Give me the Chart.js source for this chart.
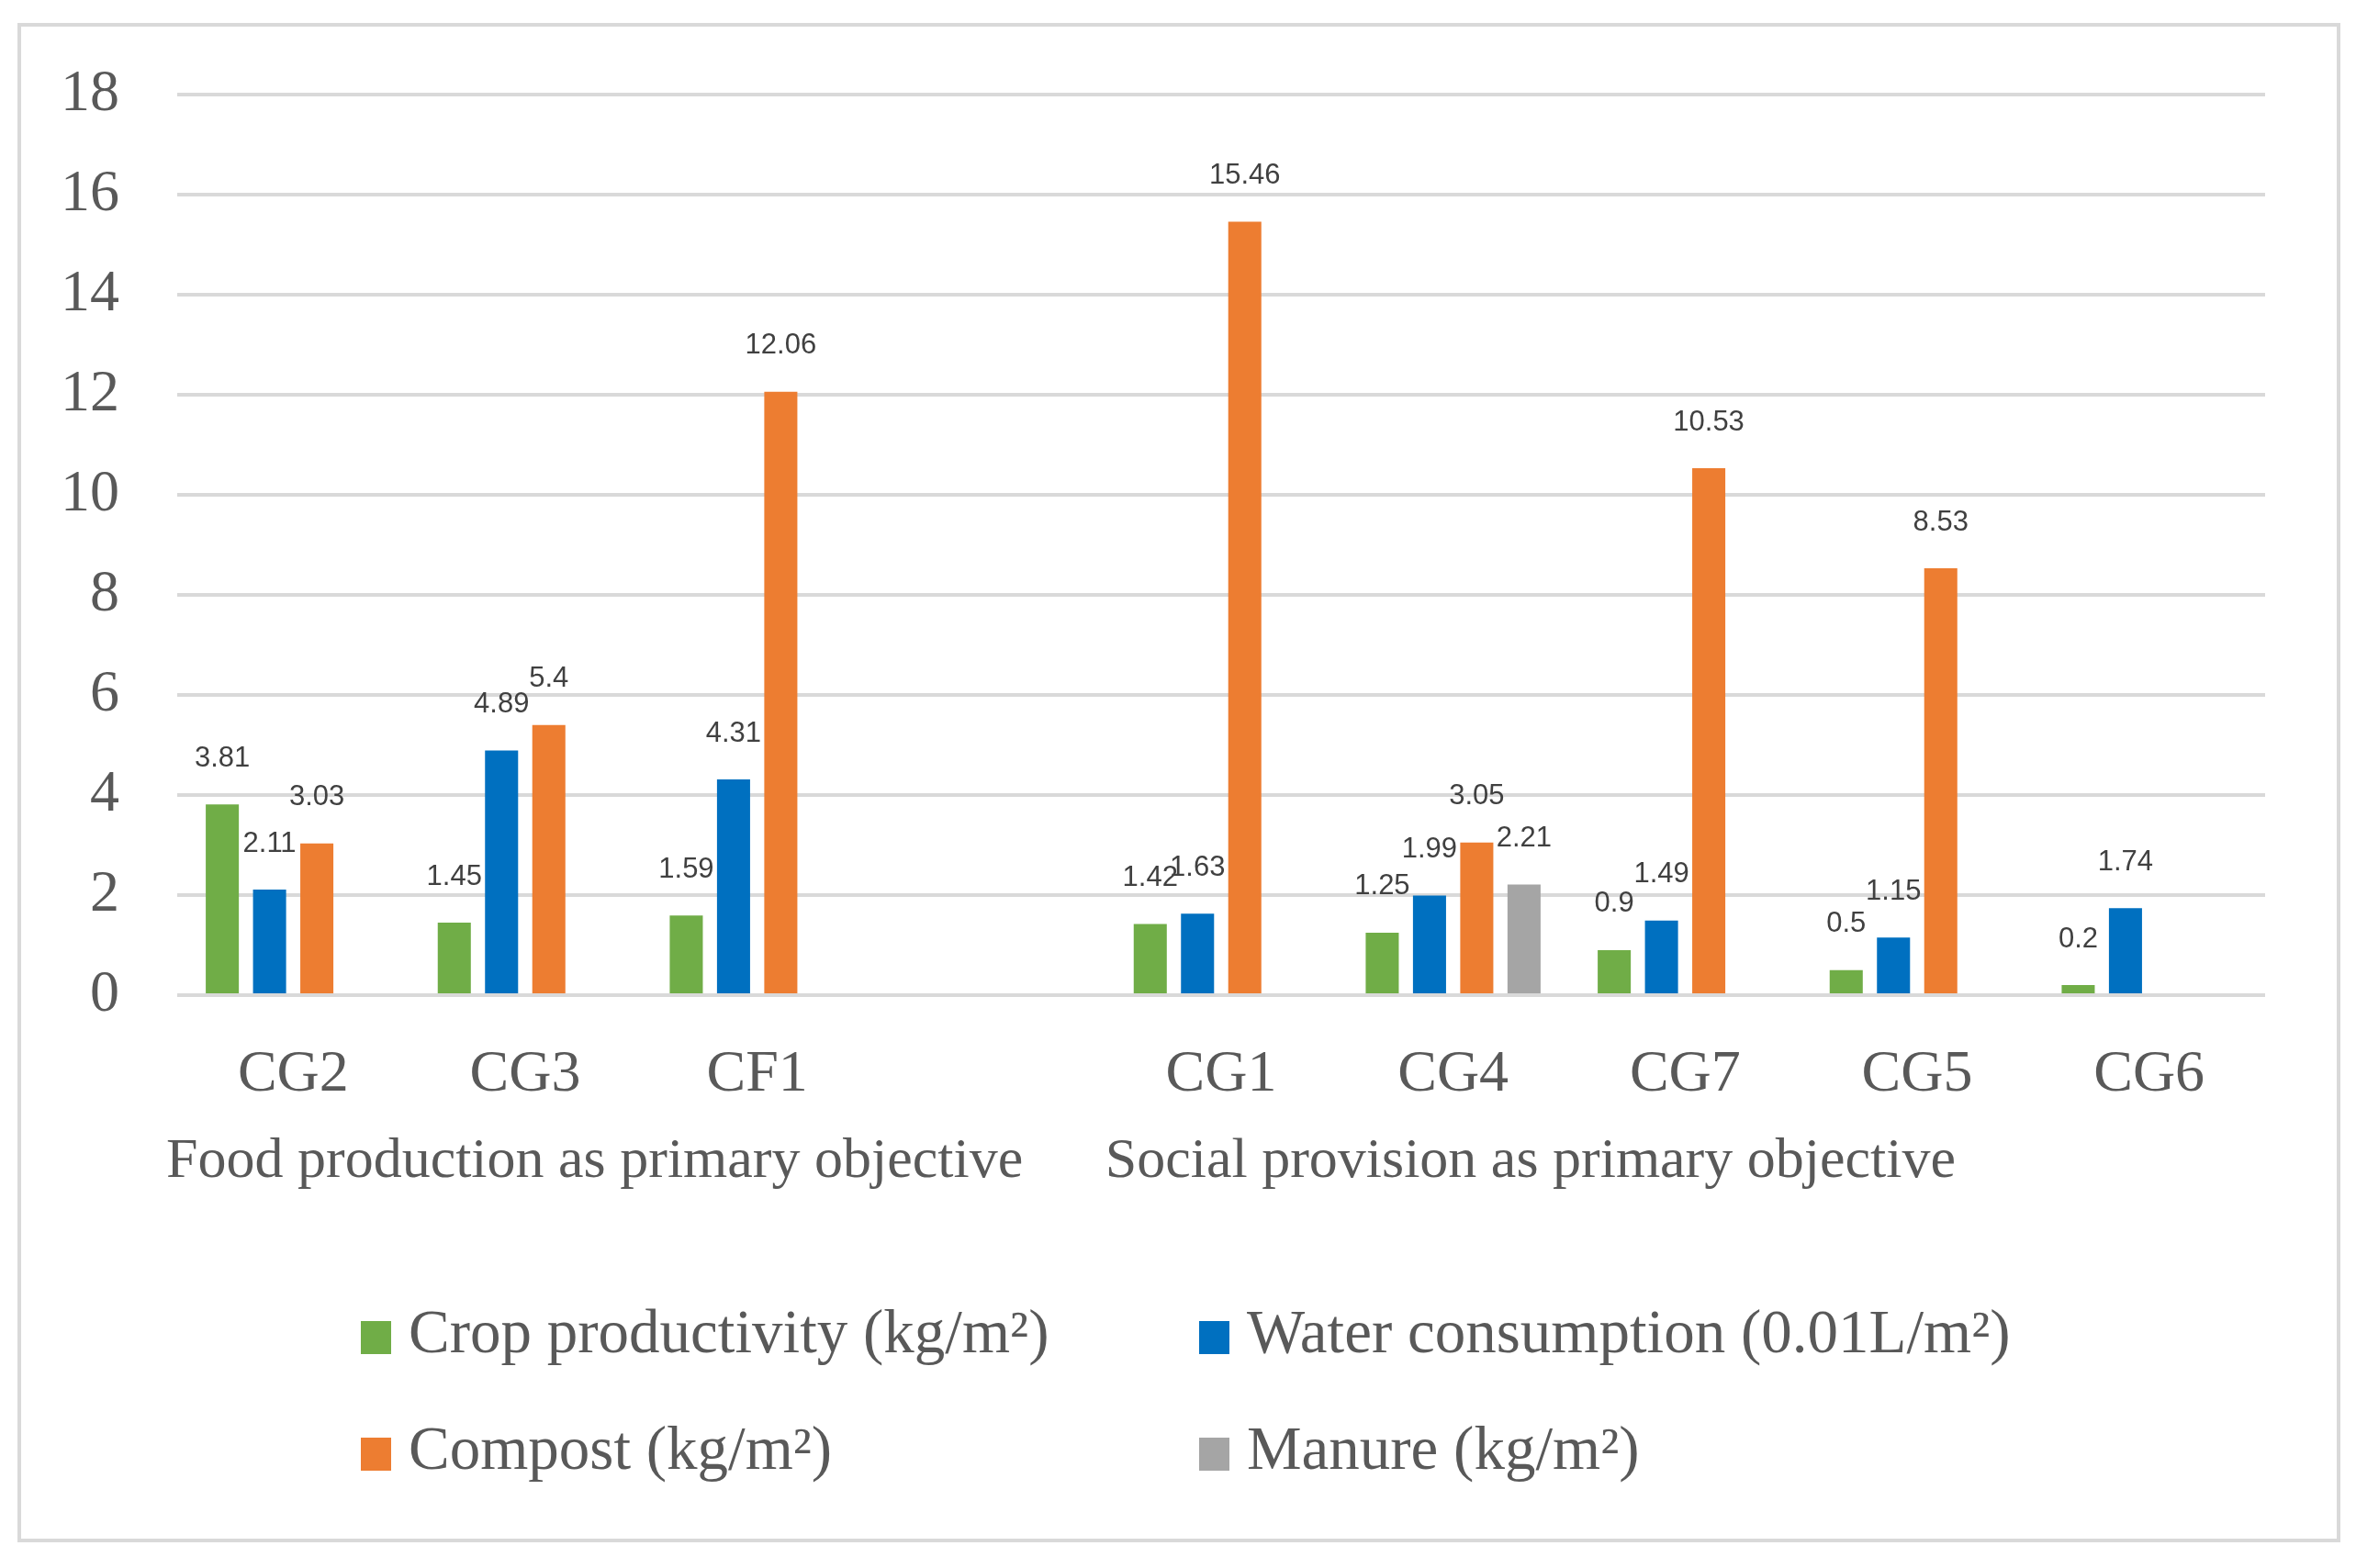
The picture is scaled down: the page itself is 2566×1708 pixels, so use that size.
<!DOCTYPE html>
<html>
<head>
<meta charset="utf-8">
<script src="https://cdn.jsdelivr.net/npm/chart.js@4.4.0/dist/chart.umd.min.js"></script>
<style>
  html, body { margin: 0; padding: 0; background: #fff; }
</style>
</head>
<body>
<canvas id="myChart" width="2566" height="1708"></canvas>
<script>
// categories (blank slot separates the two groups, as in the original)
const categories = ["CG2", "CG3", "CF1", "", "CG1", "CG4", "CG7", "CG5", "CG6"];
const groupLabels = ["Food production as primary objective", "Social provision as primary objective"];
const groupStarts = [0, 4];

const seriesNames = [
  "Crop productivity (kg/m\u00b2)",
  "Water consumption (0.01L/m\u00b2)",
  "Compost (kg/m\u00b2)",
  "Manure (kg/m\u00b2)",
];
const seriesColors = ["#70ad47", "#0070c0", "#ed7d31", "#a5a5a5"];

const cropProductivity = [3.81, 1.45, 1.59, null, 1.42, 1.25, 0.9, 0.5, 0.2];
const waterConsumption = [2.11, 4.89, 4.31, null, 1.63, 1.99, 1.49, 1.15, 1.74];
const compost = [3.03, 5.4, 12.06, null, 15.46, 3.05, 10.53, 8.53, null];
const manure = [null, null, null, null, null, 2.21, null, null, null];

const yMin = 0;
const yMax = 18;
const yStep = 2;

const serif = "'Liberation Serif', 'DejaVu Serif', serif";
const textGrey = "#595959";

const extras = {
  id: "extras",
  beforeDraw(chart) {
    const ctx = chart.ctx;
    ctx.save();
    ctx.fillStyle = "#ffffff";
    ctx.fillRect(0, 0, chart.width, chart.height);
    // outer frame
    ctx.strokeStyle = "#d9d9d9";
    ctx.lineWidth = 4;
    ctx.strokeRect(21, 27, 2526, 1651);
    ctx.restore();
  },
  afterDatasetsDraw(chart) {
    // value labels above each bar
    const ctx = chart.ctx;
    ctx.save();
    ctx.font = "31px 'Liberation Sans', Arial, sans-serif";
    ctx.fillStyle = "#404040";
    ctx.textAlign = "center";
    ctx.textBaseline = "middle";
    chart.data.datasets.forEach(function (ds, i) {
      const meta = chart.getDatasetMeta(i);
      meta.data.forEach(function (bar, j) {
        const v = ds.data[j];
        if (v === null || v === undefined) return;
        ctx.fillText(String(v), bar.x, bar.y - 50);
      });
    });
    ctx.restore();
  },
  afterDraw(chart) {
    const ctx = chart.ctx;
    const xScale = chart.scales.x;
    const catWidth = (xScale.right - xScale.left) / categories.length;
    ctx.save();
    ctx.fillStyle = textGrey;
    ctx.textBaseline = "middle";
    ctx.textAlign = "left";
    // group labels under the category labels
    ctx.font = "62px " + serif;
    groupLabels.forEach(function (lbl, i) {
      const x = xScale.getPixelForValue(groupStarts[i]) - catWidth / 2;
      ctx.fillText(lbl, i === 0 ? x - 12 : x, 1266);
    });
    // legend, 2 x 2
    const colX = [393, 1306];
    const rowY = [1455, 1582];
    ctx.font = "67px " + serif;
    seriesNames.forEach(function (name, i) {
      const x = colX[i % 2];
      const y = rowY[Math.floor(i / 2)];
      ctx.fillStyle = seriesColors[i];
      ctx.fillRect(x, y - 16, 33, 36);
      ctx.fillStyle = textGrey;
      ctx.fillText(name, x + 52, y);
    });
    ctx.restore();
  },
};

const seriesData = [cropProductivity, waterConsumption, compost, manure];

const myChart = new Chart(document.getElementById("myChart"), {
  type: "bar",
  data: {
    labels: categories,
    datasets: seriesNames.map(function (name, i) {
      return {
        label: name,
        data: seriesData[i],
        backgroundColor: seriesColors[i],
        categoryPercentage: 0.815,
        barPercentage: 0.7,
      };
    }),
  },
  options: {
    responsive: false,
    devicePixelRatio: 1,
    animation: false,
    layout: { padding: { top: 103, right: 99, left: 0, bottom: 0 } },
    plugins: {
      legend: { display: false },
      tooltip: { enabled: false },
    },
    scales: {
      x: {
        grid: { display: false, drawTicks: false },
        border: { display: false },
        ticks: {
          font: { family: serif, size: 64 },
          color: textGrey,
          padding: 49,
          maxRotation: 0,
          autoSkip: false,
        },
        afterFit: function (scale) {
          scale.height = 1708 - 1084;
        },
      },
      y: {
        min: yMin,
        max: yMax,
        grid: { color: "#d9d9d9", lineWidth: 4, drawTicks: false },
        border: { display: false },
        ticks: {
          stepSize: yStep,
          font: { family: serif, size: 64 },
          color: textGrey,
          padding: 63,
        },
        afterFit: function (scale) {
          scale.width = 193;
        },
      },
    },
  },
  plugins: [extras],
});
</script>
</body>
</html>
